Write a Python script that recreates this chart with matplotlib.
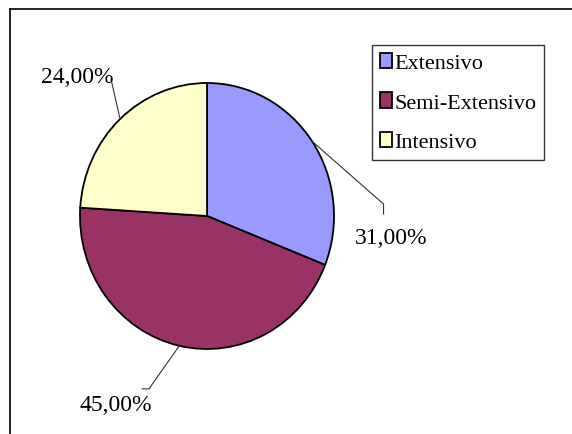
import numpy as np
import matplotlib
matplotlib.use("Agg")
import matplotlib.pyplot as plt
from matplotlib.lines import Line2D
from matplotlib.patches import Patch

categorias = ["Extensivo", "Semi-Extensivo", "Intensivo"]
valores = [31.0, 45.0, 24.0]
cores = ["#9999FF", "#993366", "#FFFFCC"]

# posicao dos rotulos e cotovelo da linha guia (coord. dos dados)
pos_texto = [(1.45, -0.16), (-0.72, -1.42), (-1.02, 1.05)]
cotovelo = [[(1.39, 0.09), (1.39, 0.015)],
            [(-0.457, -1.30), (-0.51, -1.30)],
            [(-0.756, 1.03)]]

plt.rcParams['font.family'] = ['Liberation Serif', 'DejaVu Serif']

fig = plt.figure(figsize=(5.72, 4.35), dpi=100)
W, H = 572, 435

# moldura do grafico (cortada a direita e em baixo)
fig.add_artist(Line2D([10 / W, 1], [1 - 10 / H, 1 - 10 / H], color="black", lw=1.2))
fig.add_artist(Line2D([10 / W, 10 / W], [1 - 10 / H, 0], color="black", lw=1.2))

cx, cy, rx, ry = 207, 217, 127, 133
ax = fig.add_axes([(cx - rx) / W, (H - cy - ry) / H, 2 * rx / W, 2 * ry / H])

wedges, _ = ax.pie(valores, colors=cores, startangle=90, counterclock=False,
                   radius=1, wedgeprops=dict(edgecolor="black", linewidth=1.3))
ax.set_xlim(-1, 1)
ax.set_ylim(-1, 1)
ax.set_aspect("auto")
ax.axis("off")

for w, v, (tx, ty), pts in zip(wedges, valores, pos_texto, cotovelo):
    ang = np.deg2rad((w.theta1 + w.theta2) / 2)
    xs = [np.cos(ang)] + [p[0] for p in pts]
    ys = [np.sin(ang)] + [p[1] for p in pts]
    ax.plot(xs, ys, color="#333333", lw=0.8, clip_on=False)
    ax.text(tx, ty, f"{v:.2f}".replace(".", ",") + "%", ha="center", va="center",
            fontsize=17, clip_on=False)

handles = [Patch(facecolor=c, edgecolor="black", linewidth=1.3) for c in cores]
leg = fig.legend(handles, categorias, loc="upper left",
                 bbox_to_anchor=(372 / W, 1 - 46 / H), fontsize=16,
                 frameon=True, fancybox=False, edgecolor="black",
                 handlelength=0.55, handleheight=0.7, handletextpad=0.1,
                 labelspacing=0.85, borderpad=0.35, borderaxespad=0)
leg.get_frame().set_linewidth(1.0)

fig.savefig("out.png", dpi=100)
